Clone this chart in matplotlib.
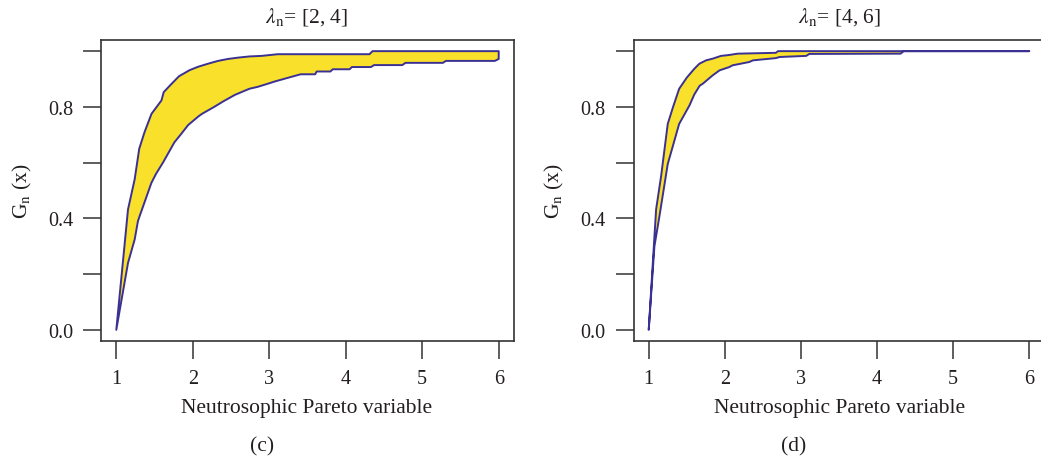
import matplotlib
matplotlib.use('Agg')
import matplotlib.pyplot as plt
import numpy as np

# ---------------- data ----------------
x_ticks = [1, 2, 3, 4, 5, 6]
y_ticks = [0.0, 0.2, 0.4, 0.6, 0.8, 1.0]
y_tick_labels = ['0.0', '', '0.4', '', '0.8', '']

titles = [r'$\lambda_{\mathrm{n}}$= [2, 4]', r'$\lambda_{\mathrm{n}}$= [4, 6]']
panel_tags = ['(c)', '(d)']
x_label = 'Neutrosophic Pareto variable'
y_label = r'G$_{\mathrm{n}}$ (x)'

# panel (c): upper bound curve (lambda = 4) and lower bound curve (lambda = 2)
c_upper_x = [1.00, 1.153, 1.24, 1.30, 1.37, 1.46, 1.59, 1.62, 1.72, 1.82, 1.96, 2.07,
             2.20, 2.33, 2.46, 2.60, 2.74, 2.90, 3.11, 4.31, 4.35, 6.00]
c_upper_y = [0.00, 0.432, 0.54, 0.650, 0.71, 0.775, 0.823, 0.853, 0.882, 0.910, 0.932, 0.944,
             0.955, 0.965, 0.972, 0.977, 0.981, 0.983, 0.989, 0.989, 1.000, 1.000]
c_lower_x = [1.00, 1.153, 1.24, 1.283, 1.305, 1.46, 1.52, 1.61, 1.76, 1.84, 1.94, 2.07,
             2.12, 2.28, 2.40, 2.55, 2.74, 2.85, 2.98, 3.07, 3.20, 3.41, 3.60, 3.62,
             3.80, 3.83, 4.05, 4.08, 4.33, 4.37, 4.74, 4.78, 5.27, 5.31, 5.95, 6.00]
c_lower_y = [0.00, 0.240, 0.324, 0.390, 0.408, 0.528, 0.560, 0.600, 0.673, 0.700, 0.735, 0.765,
             0.775, 0.800, 0.820, 0.843, 0.865, 0.872, 0.883, 0.891, 0.901, 0.917, 0.917, 0.927,
             0.927, 0.935, 0.935, 0.943, 0.943, 0.950, 0.950, 0.958, 0.958, 0.965, 0.965, 0.972]

# panel (d): upper bound curve (lambda = 6) and lower bound curve (lambda = 4)
d_upper_x = [1.00, 1.097, 1.163, 1.25, 1.32, 1.40, 1.50, 1.60, 1.666, 1.754, 1.84, 1.95,
             2.05, 2.17, 2.67, 2.70, 6.00]
d_upper_y = [0.00, 0.432, 0.552, 0.739, 0.800, 0.865, 0.905, 0.937, 0.955, 0.967, 0.973, 0.983,
             0.986, 0.991, 0.994, 1.000, 1.000]
d_lower_x = [1.00, 1.075, 1.141, 1.25, 1.40, 1.535, 1.60, 1.67, 1.71, 1.84, 1.93, 2.06,
             2.10, 2.32, 2.37, 2.67, 2.72, 3.07, 3.11, 4.31, 4.35, 6.00]
d_lower_y = [0.00, 0.300, 0.408, 0.595, 0.739, 0.805, 0.845, 0.876, 0.883, 0.913, 0.931, 0.943,
             0.949, 0.961, 0.967, 0.975, 0.979, 0.983, 0.990, 0.991, 1.000, 1.000]

# ---------------- styling ----------------
plt.rcParams['font.family'] = ['Liberation Serif', 'DejaVu Serif']
plt.rcParams['mathtext.fontset'] = 'stix'
TXT = '#231F20'
AX = '#333333'
FILL = '#F9E02B'
EDGE = '#3A3192'

W, H = 1041, 464
fig = plt.figure(figsize=(W / 100, H / 100), dpi=100)


def add_ax(l, t, r, b):
    return fig.add_axes([l / W, 1 - b / H, (r - l) / W, (b - t) / H])


ax1 = add_ax(101, 41, 514, 342)
ax2 = add_ax(633.5, 41, 633.5 + 5.4 * 76.1, 342)

panels = [
    (ax1, c_upper_x, c_upper_y, c_lower_x, c_lower_y),
    (ax2, d_upper_x, d_upper_y, d_lower_x, d_lower_y),
]

for i, (ax, ux, uy, lx, ly) in enumerate(panels):
    px = np.concatenate([ux, lx[::-1]])
    py = np.concatenate([uy, ly[::-1]])
    ax.fill(px, py, facecolor=FILL, edgecolor=EDGE, linewidth=1.4, joinstyle='round')
    ax.set_xlim(0.8, 6.2)
    ax.set_ylim(-0.04, 1.04)
    ax.set_xticks(x_ticks)
    ax.set_xticklabels([str(t) for t in x_ticks])
    ax.set_yticks(y_ticks)
    ax.set_yticklabels(y_tick_labels)
    ax.tick_params(length=13, width=1.1, color=AX, pad=7, labelsize=14.5, labelcolor=TXT)
    for s in ax.spines.values():
        s.set_linewidth(1.2)
        s.set_color(AX)
    ax.set_facecolor('white')

centers = [307, 840]
tag_x = [262, 794]
for i in range(2):
    cx = centers[i]
    fig.text(cx / W, 1 - 23 / H, titles[i], ha='center', va='baseline', fontsize=15.5, color=TXT)
    fig.text(cx / W, 1 - 409 / H, x_label, ha='center', va='center', fontsize=15.5, color=TXT)
    fig.text(tag_x[i] / W, 1 - 447 / H, panel_tags[i], ha='center', va='center', fontsize=15.5, color=TXT)

fig.text(22 / W, 1 - 191 / H, y_label, ha='center', va='center', rotation=90, fontsize=15.5, color=TXT)
fig.text((22 + 532.5) / W, 1 - 191 / H, y_label, ha='center', va='center', rotation=90, fontsize=15.5, color=TXT)

fig.savefig('out.png', dpi=100)
